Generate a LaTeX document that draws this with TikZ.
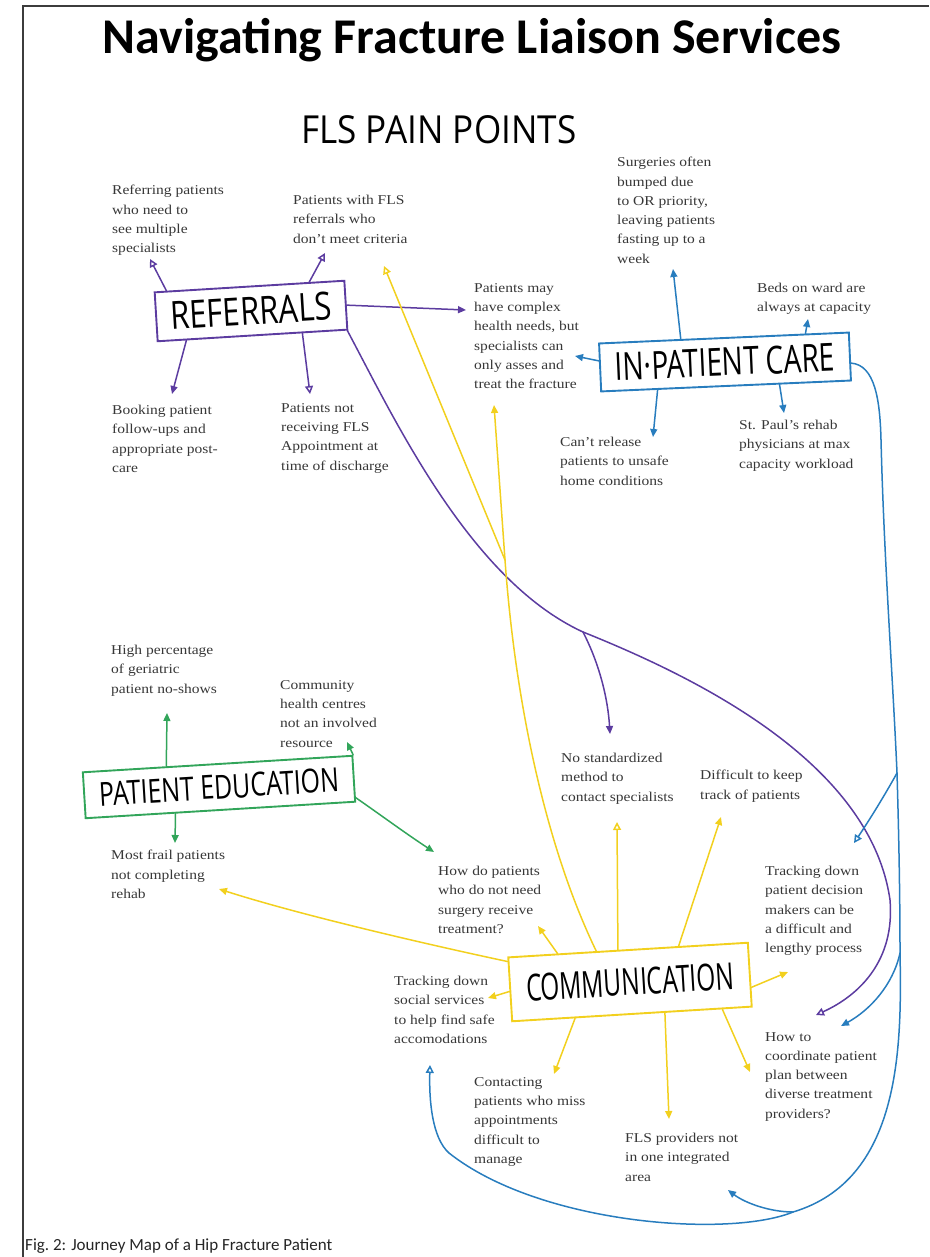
\documentclass[tikz,border=0pt]{standalone}
\usepackage{fontspec}
\setmainfont{Liberation Serif}[FakeStretch=1.15]
\newfontfamily\titlefont{Carlito}
\newfontfamily\handfont{Open Sans}
\usetikzlibrary{arrows.meta}
\definecolor{refpurple}{RGB}{92,60,160}
\definecolor{inpblue}{RGB}{40,125,190}
\definecolor{edugreen}{RGB}{50,165,90}
\definecolor{comyellow}{RGB}{242,208,30}
\definecolor{notegray}{RGB}{55,55,55}
\definecolor{framegray}{RGB}{60,60,60}
% hand lettering squeezed into a given width and cap height
\newcommand\handtext[3]{\resizebox{#1}{#2}{\handfont #3}}

\begin{document}
\begin{tikzpicture}[x=1pt, y=-1pt,
  note/.style={anchor=north west, inner sep=0pt, align=left, text=notegray,
               font=\fontsize{13.5}{19.3}\selectfont},
  topic/.style={draw=#1, line width=1.9pt, inner sep=0pt},
  link/.style={draw=#1, line width=1.5pt, line cap=round},
  tipf/.style={-{Triangle[length=8pt,width=7pt]}},
  tipo/.style={-{Triangle[open,length=8pt,width=8pt]}}]

\useasboundingbox (0,0) rectangle (929,1257);

% page frame
\draw[framegray, line width=1.3pt] (23,1257) -- (23,6) -- (929,6);

% headings
\node[font=\titlefont\bfseries\fontsize{50}{60}\selectfont, anchor=base, inner sep=0pt]
  (title) at (472,54) {Navigating Fracture Liaison Services};
\node[anchor=north west, inner sep=0pt] (pain) at (301,115) {\handtext{275pt}{28pt}{FLS PAIN POINTS}};
\node[font=\titlefont\fontsize{17}{20}\selectfont, anchor=base west, inner sep=0pt, text=black!85]
  (caption) at (25,1250) {Fig.\ 2: Journey Map of a Hip Fracture Patient};

% topic boxes
\node[topic=refpurple, minimum width=190pt, minimum height=49pt, rotate=3.5]
  (ref) at (251,311) {\handtext{161pt}{28pt}{REFERRALS}};
\node[topic=inpblue, minimum width=250pt, minimum height=48pt, rotate=2.5]
  (inp) at (725,362) {\handtext{220pt}{28pt}{IN·PATIENT CARE}};
\node[topic=edugreen, minimum width=270pt, minimum height=46pt, rotate=3.5]
  (edu) at (219,787) {\handtext{240pt}{24pt}{PATIENT EDUCATION}};
\node[topic=comyellow, minimum width=240pt, minimum height=64pt, rotate=3.5]
  (com) at (630,982) {\handtext{208pt}{27pt}{COMMUNICATION}};

% pain points
\node[note] (n1) at (112,185) {Referring patients\\who need to\\see multiple\\specialists};
\node[note] (n2) at (293,195) {Patients with FLS\\referrals who\\don't meet criteria};
\node[note] (n3) at (112,405) {Booking patient\\follow-ups and\\appropriate post-\\care};
\node[note] (n4) at (281,403) {Patients not\\receiving FLS\\Appointment at\\time of discharge};
\node[note] (n5) at (474,283) {Patients may\\have complex\\health needs, but\\specialists can\\only asses and\\treat the fracture};
\node[note] (n6) at (617,157) {Surgeries often\\bumped due\\to OR priority,\\leaving patients\\fasting up to a\\week};
\node[note] (n7) at (757,283) {Beds on ward are\\always at capacity};
\node[note] (n8) at (560,437) {Can't release\\patients to unsafe\\home conditions};
\node[note] (n9) at (739,420) {St. Paul's rehab\\physicians at max\\capacity workload};
\node[note] (n10) at (111,645) {High percentage\\of geriatric\\patient no-shows};
\node[note] (n11) at (280,680) {Community\\health centres\\not an involved\\resource};
\node[note] (n12) at (111,850) {Most frail patients\\not completing\\rehab};
\node[note] (n13) at (438,866) {How do patients\\who do not need\\surgery receive\\treatment?};
\node[note] (n14) at (561,753) {No standardized\\method to\\contact specialists};
\node[note] (n15) at (700,770) {Difficult to keep\\track of patients};
\node[note] (n16) at (765,866) {Tracking down\\patient decision\\makers can be\\a difficult and\\lengthy process};
\node[note] (n17) at (394,976) {Tracking down\\social services\\to help find safe\\accomodations};
\node[note] (n18) at (474,1077) {Contacting\\patients who miss\\appointments\\difficult to\\manage};
\node[note] (n19) at (625,1133) {FLS providers not\\in one integrated\\area};
\node[note] (n20) at (765,1032) {How to\\coordinate patient\\plan between\\diverse treatment\\providers?};

% arrow ends and branch points
\coordinate (rt1) at (150,259);
\coordinate (rt2) at (325,253);
\coordinate (rt3) at (172,394);
\coordinate (rt4) at (310,394);
\coordinate (rt5) at (466,310);
\coordinate (pj)  at (583,632);
\coordinate (pk)  at (890,900);
\coordinate (rt6) at (610,734);
\coordinate (rt7) at (816,1015);

\coordinate (bt1) at (673,269);
\coordinate (bt2) at (808,319);
\coordinate (bt3) at (575,356);
\coordinate (bt4) at (653,437);
\coordinate (bt5) at (784,413);
\coordinate (bk)  at (881,440);
\coordinate (bj1) at (897,773);
\coordinate (bt6) at (854,843);
\coordinate (bj2) at (900,953);
\coordinate (bt7) at (841,1026);
\coordinate (bj3) at (793,1212);
\coordinate (bt8) at (728,1190);
\coordinate (bl)  at (449,1153);
\coordinate (bt9) at (430,1065);

\coordinate (gt1) at (167,713);
\coordinate (gt2) at (347,742);
\coordinate (gt3) at (175,843);
\coordinate (gt4) at (434,852);

\coordinate (yt1) at (538,926);
\coordinate (yt2) at (617,822);
\coordinate (yt3) at (721,817);
\coordinate (yt4) at (788,972);
\coordinate (yt5) at (488,998);
\coordinate (yt6) at (554,1074);
\coordinate (yt7) at (669,1119);
\coordinate (yt8) at (750,1072);
\coordinate (yt9) at (219,889);
\coordinate (yj)  at (505,560);
\coordinate (yt10) at (494,405);
\coordinate (yt11) at (384,266);

% referrals
\draw[link=refpurple, tipo] (ref.163) -- (rt1);
\draw[link=refpurple, tipo] (ref.23) -- (rt2);
\draw[link=refpurple, tipf] (ref.201) -- (rt3);
\draw[link=refpurple, tipo] (ref.333) -- (rt4);
\draw[link=refpurple, tipf] (ref.0) -- (rt5);
\draw[link=refpurple] (ref.345) .. controls (395,420) and (470,580) .. (pj);
\draw[link=refpurple, tipo] (pj) .. controls (690,675) and (870,760) .. (pk)
  .. controls (895,960) and (860,995) .. (rt7);
\draw[link=refpurple, tipf] (pj) .. controls (600,665) and (608,700) .. (rt6);

% in-patient care
\draw[link=inpblue, tipf] (inp.150) -- (bt1);
\draw[link=inpblue, tipf] (inp.17) -- (bt2);
\draw[link=inpblue, tipf] (inp.177) -- (bt3);
\draw[link=inpblue, tipf] (inp.200) -- (bt4);
\draw[link=inpblue, tipf] (inp.335) -- (bt5);
\draw[link=inpblue] (inp.357) .. controls (875,365) and (880,400) .. (bk)
  .. controls (884,560) and (893,680) .. (bj1)
  .. controls (899,840) and (900,900) .. (bj2)
  .. controls (902,1050) and (900,1180) .. (bj3);
\draw[link=inpblue, tipo] (bj3) .. controls (730,1238) and (540,1225) .. (bl)
  .. controls (432,1138) and (429,1100) .. (bt9);
\draw[link=inpblue, tipo] (bj1) .. controls (882,800) and (868,822) .. (bt6);
\draw[link=inpblue, tipf] (bj2) .. controls (893,985) and (870,1010) .. (bt7);
\draw[link=inpblue, tipf] (bj3) .. controls (770,1212) and (745,1203) .. (bt8);

% patient education
\draw[link=edugreen, tipf] (edu.155) -- (gt1);
\draw[link=edugreen, tipf] (edu.10) -- (gt2);
\draw[link=edugreen, tipf] (edu.208) -- (gt3);
\draw[link=edugreen, tipf] (edu.352) .. controls (378,813) and (405,833) .. (gt4);

% communication
\draw[link=comyellow, tipf] (com.155) -- (yt1);
\draw[link=comyellow, tipo] (com.107) -- (yt2);
\draw[link=comyellow, tipf] (com.33) -- (yt3);
\draw[link=comyellow, tipf] (com.354) -- (yt4);
\draw[link=comyellow, tipf] (com.181) -- (yt5);
\draw[link=comyellow, tipf] (com.210) -- (yt6);
\draw[link=comyellow, tipf] (com.315) -- (yt7);
\draw[link=comyellow, tipf] (com.340) -- (yt8);
\draw[link=comyellow, tipf] (com.167) .. controls (430,945) and (300,915) .. (yt9);
\draw[link=comyellow] (com.134) .. controls (545,845) and (515,700) .. (yj);
\draw[link=comyellow, tipf] (yj) -- (yt10);
\draw[link=comyellow, tipo] (yj) -- (yt11);

\end{tikzpicture}
\end{document}
